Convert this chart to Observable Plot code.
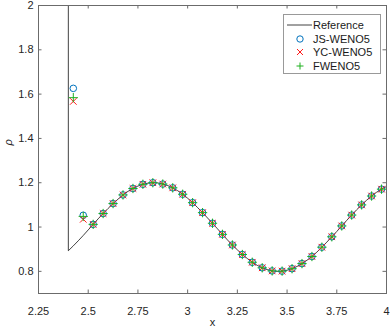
<!DOCTYPE html>
<html><head><meta charset="utf-8">
<script src="https://cdn.jsdelivr.net/npm/d3@7"></script>
<script src="https://cdn.jsdelivr.net/npm/@observablehq/plot@0.6"></script>
<style>
body{margin:0;background:#fff;}
#wrap{position:relative;width:390px;height:328px;font-family:"Liberation Sans",Arial,sans-serif;color:#262626;}
#legend{position:absolute;left:283px;top:14px;width:98px;height:60px;border:1px solid #999;background:#fff;box-sizing:border-box;}
.row{position:absolute;left:0;height:14px;line-height:14px;font-size:11px;white-space:nowrap;color:#1a1a1a;}
.row svg{position:absolute;left:2px;top:0;}
.row span{position:absolute;left:29px;top:0;}
</style></head>
<body><div id="wrap"></div>
<script>
// Reference solution (shock at x = 2.4, post-shock state off the chart)
const refX = [2.4, 2.4, 2.425, 2.45, 2.475, 2.5, 2.525, 2.55, 2.575, 2.6, 2.625, 2.65, 2.675, 2.7, 2.725, 2.75, 2.775, 2.8, 2.825, 2.85, 2.875, 2.9, 2.925, 2.95, 2.975, 3.0, 3.025, 3.05, 3.075, 3.1, 3.125, 3.15, 3.175, 3.2, 3.225, 3.25, 3.275, 3.3, 3.325, 3.35, 3.375, 3.4, 3.425, 3.45, 3.475, 3.5, 3.525, 3.55, 3.575, 3.6, 3.625, 3.65, 3.675, 3.7, 3.725, 3.75, 3.775, 3.8, 3.825, 3.85, 3.875, 3.9, 3.925, 3.95, 3.975, 4.0];
const refRho = [3.857, 0.893, 0.915, 0.938, 0.962, 0.987, 1.012, 1.037, 1.061, 1.084, 1.106, 1.126, 1.145, 1.161, 1.174, 1.185, 1.193, 1.198, 1.200, 1.199, 1.194, 1.187, 1.177, 1.164, 1.148, 1.130, 1.110, 1.088, 1.065, 1.041, 1.017, 0.992, 0.967, 0.942, 0.919, 0.897, 0.876, 0.858, 0.841, 0.827, 0.816, 0.808, 0.802, 0.800, 0.801, 0.805, 0.812, 0.822, 0.835, 0.850, 0.867, 0.887, 0.909, 0.932, 0.956, 0.980, 1.005, 1.030, 1.054, 1.078, 1.100, 1.121, 1.140, 1.157, 1.171, 1.183];

// Numerical solutions at cell centres
const cellX = [2.425, 2.475, 2.525, 2.575, 2.625, 2.675, 2.725, 2.775, 2.825, 2.875, 2.925, 2.975, 3.025, 3.075, 3.125, 3.175, 3.225, 3.275, 3.325, 3.375, 3.425, 3.475, 3.525, 3.575, 3.625, 3.675, 3.725, 3.775, 3.825, 3.875, 3.925, 3.975];
const jsWeno5 = [1.626, 1.053, 1.012, 1.061, 1.106, 1.145, 1.174, 1.193, 1.200, 1.194, 1.177, 1.148, 1.110, 1.065, 1.017, 0.967, 0.919, 0.876, 0.841, 0.816, 0.802, 0.801, 0.812, 0.835, 0.867, 0.909, 0.956, 1.005, 1.054, 1.100, 1.140, 1.171];
const ycWeno5 = [1.567, 1.035, 1.012, 1.061, 1.106, 1.145, 1.174, 1.193, 1.200, 1.194, 1.177, 1.148, 1.110, 1.065, 1.017, 0.967, 0.919, 0.876, 0.841, 0.816, 0.802, 0.801, 0.812, 0.835, 0.867, 0.909, 0.956, 1.005, 1.054, 1.100, 1.140, 1.171];
const fWeno5 = [1.584, 1.048, 1.012, 1.061, 1.106, 1.145, 1.174, 1.193, 1.200, 1.194, 1.177, 1.148, 1.110, 1.065, 1.017, 0.967, 0.919, 0.876, 0.841, 0.816, 0.802, 0.801, 0.812, 0.835, 0.867, 0.909, 0.956, 1.005, 1.054, 1.100, 1.140, 1.171];

const seriesNames = ["Reference", "JS-WENO5", "YC-WENO5", "FWENO5"];
const xTicks = [2.25, 2.5, 2.75, 3, 3.25, 3.5, 3.75, 4];
const xTickLabels = ["2.25", "2.5", "2.75", "3", "3.25", "3.5", "3.75", "4"];
const yTicks = [0.8, 1, 1.2, 1.4, 1.6, 1.8, 2];
const yTickLabels = ["0.8", "1", "1.2", "1.4", "1.6", "1.8", "2"];
const xLabel = "x";
const yLabel = "ρ";

const W = 390, H = 328, mL = 38, mR = 4, mT = 5, mB = 35;
const plotH = H - mT - mB, plotW = W - mL - mR, tickLen = 3.5;
const axisColor = "#6b6b6b";
const colJS = "#0072bd", colYC = "#ff1a1a", colF = "#1fb01f";

const refData = refX.map((x, i) => ({x, y: refRho[i]}));
const mk = arr => cellX.map((x, i) => ({x, y: arr[i]}));

const chart = Plot.plot({
  width: W, height: H,
  marginLeft: mL, marginRight: mR, marginTop: mT, marginBottom: mB,
  style: {fontFamily: "Liberation Sans, Arial, sans-serif", fontSize: "11px", color: "#262626", background: "#fff"},
  x: {domain: [2.25, 4]},
  y: {domain: [0.7, 2]},
  marks: [
    Plot.line(refData, {x: "x", y: "y", stroke: "#111", strokeWidth: 0.8, clip: true}),
    Plot.dot(mk(jsWeno5), {x: "x", y: "y", symbol: "circle", r: 3.3, stroke: colJS, strokeWidth: 1, fill: "none"}),
    Plot.dot(mk(ycWeno5), {x: "x", y: "y", symbol: "times", r: 3.1, stroke: colYC, strokeWidth: 1}),
    Plot.dot(mk(fWeno5), {x: "x", y: "y", symbol: "plus", r: 3.1, stroke: colF, strokeWidth: 1}),
    Plot.frame({stroke: axisColor}),
    Plot.tickX(xTicks, {x: d => d, insetTop: plotH - tickLen, stroke: axisColor}),
    Plot.tickX(xTicks, {x: d => d, insetBottom: plotH - tickLen, stroke: axisColor}),
    Plot.tickY(yTicks, {y: d => d, insetRight: plotW - tickLen, stroke: axisColor}),
    Plot.tickY(yTicks, {y: d => d, insetLeft: plotW - tickLen, stroke: axisColor}),
    Plot.axisX(xTicks, {anchor: "bottom", tickSize: 0, tickPadding: 14, label: null, tickFormat: d => xTickLabels[xTicks.indexOf(d)], fill: "#262626"}),
    Plot.axisY(yTicks, {anchor: "left", tickSize: 0, tickPadding: 5, label: null, tickFormat: d => yTickLabels[yTicks.indexOf(d)], fill: "#262626"}),
    Plot.text([xLabel], {frameAnchor: "bottom", dy: 32, text: d => d, fontSize: 11, fill: "#262626"}),
    Plot.text([yLabel], {frameAnchor: "left", dx: -30, dy: -4, text: d => d, rotate: -90, fontSize: 11, fontStyle: "italic", fill: "#262626"})
  ]
});
const wrap = document.getElementById("wrap");
wrap.appendChild(chart);

// Legend (inside the axes, top-right)
const legend = document.createElement("div");
legend.id = "legend";
const rowsY = [3, 16.5, 30, 43.5];
const glyphs = [
  `<line x1="1" y1="7" x2="26" y2="7" stroke="#111" stroke-width="0.8"/>`,
  `<circle cx="14" cy="7" r="3.2" fill="none" stroke="${colJS}" stroke-width="1"/>`,
  `<path d="M11,4L17,10M11,10L17,4" stroke="${colYC}" stroke-width="1" fill="none"/>`,
  `<path d="M10.5,7H17.5M14,3.5V10.5" stroke="${colF}" stroke-width="1" fill="none"/>`
];
seriesNames.forEach((name, i) => {
  const row = document.createElement("div");
  row.className = "row";
  row.style.top = rowsY[i] + "px";
  row.innerHTML = `<svg width="28" height="14">${glyphs[i]}</svg><span>${name}</span>`;
  legend.appendChild(row);
});
wrap.appendChild(legend);
</script>
</body></html>
